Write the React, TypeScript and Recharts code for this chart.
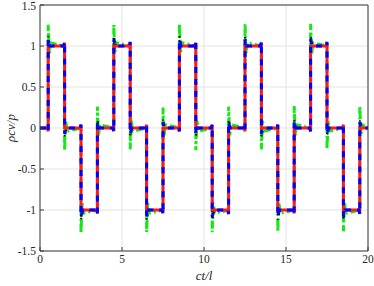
import { LineChart, Line, XAxis, YAxis, CartesianGrid } from 'recharts';

// [ct/l, rho*c*v/p] pairs
const greenPts = [
  [0, 0],
  [0.5, 0], [0.5, 1.26], [0.57, 0.91], [0.65, 1.04],
  [1.5, 1], [1.5, -0.27], [1.57, 0.09], [1.65, -0.04],
  [2.5, 0], [2.5, -1.28], [2.57, -0.91], [2.65, -1.04],
  [3.5, -1], [3.5, 0.26], [3.57, -0.09], [3.65, 0.04],
  [4.5, 0], [4.5, 1.26], [4.57, 0.91], [4.65, 1.04],
  [5.5, 1], [5.5, -0.26], [5.57, 0.09], [5.65, -0.04],
  [6.5, 0], [6.5, -1.27], [6.57, -0.91], [6.65, -1.04],
  [7.5, -1], [7.5, 0.25], [7.57, -0.09], [7.65, 0.04],
  [8.5, 0], [8.5, 1.27], [8.57, 0.91], [8.65, 1.04],
  [9.5, 1], [9.5, -0.27], [9.57, 0.09], [9.65, -0.04],
  [10.5, 0], [10.5, -1.27], [10.57, -0.91], [10.65, -1.04],
  [11.5, -1], [11.5, 0.26], [11.57, -0.09], [11.65, 0.04],
  [12.5, 0], [12.5, 1.27], [12.57, 0.91], [12.65, 1.04],
  [13.5, 1], [13.5, -0.26], [13.57, 0.09], [13.65, -0.04],
  [14.5, 0], [14.5, -1.27], [14.57, -0.91], [14.65, -1.04],
  [15.5, -1], [15.5, 0.27], [15.57, -0.09], [15.65, 0.04],
  [16.5, 0], [16.5, 1.27], [16.57, 0.91], [16.65, 1.04],
  [17.5, 1], [17.5, -0.26], [17.57, 0.09], [17.65, -0.04],
  [18.5, 0], [18.5, -1.26], [18.57, -0.91], [18.65, -1.04],
  [19.5, -1], [19.5, 0.27], [19.57, -0.09], [19.65, 0.04],
  [20, 0],
];

const redPts = [
  [0, 0],
  [0.45, 0], [0.5, -0.04], [0.5, 1], [1.45, 1], [1.5, 1.04], [1.5, 0],
  [2.45, 0], [2.5, 0.04], [2.5, -1], [3.45, -1], [3.5, -1.04], [3.5, 0],
  [4.45, 0], [4.5, -0.04], [4.5, 1], [5.45, 1], [5.5, 1.04], [5.5, 0],
  [6.45, 0], [6.5, 0.04], [6.5, -1], [7.45, -1], [7.5, -1.04], [7.5, 0],
  [8.45, 0], [8.5, -0.04], [8.5, 1], [9.45, 1], [9.5, 1.04], [9.5, 0],
  [10.45, 0], [10.5, 0.04], [10.5, -1], [11.45, -1], [11.5, -1.04], [11.5, 0],
  [12.45, 0], [12.5, -0.04], [12.5, 1], [13.45, 1], [13.5, 1.04], [13.5, 0],
  [14.45, 0], [14.5, 0.04], [14.5, -1], [15.45, -1], [15.5, -1.04], [15.5, 0],
  [16.45, 0], [16.5, -0.04], [16.5, 1], [17.45, 1], [17.5, 1.04], [17.5, 0],
  [18.45, 0], [18.5, 0.04], [18.5, -1], [19.45, -1], [19.5, -1.04], [19.5, 0],
  [20, 0],
];

const blackPts = [
  [0, 0],
  [0.5, 0], [0.5, 1.12], [0.62, 1], [1.5, 1], [1.5, -0.1], [1.62, 0],
  [2.5, 0], [2.5, -1.12], [2.62, -1], [3.5, -1], [3.5, 0.1], [3.62, 0],
  [4.5, 0], [4.5, 1.12], [4.62, 1], [5.5, 1], [5.5, -0.1], [5.62, 0],
  [6.5, 0], [6.5, -1.12], [6.62, -1], [7.5, -1], [7.5, 0.1], [7.62, 0],
  [8.5, 0], [8.5, 1.12], [8.62, 1], [9.5, 1], [9.5, -0.1], [9.62, 0],
  [10.5, 0], [10.5, -1.12], [10.62, -1], [11.5, -1], [11.5, 0.1], [11.62, 0],
  [12.5, 0], [12.5, 1.12], [12.62, 1], [13.5, 1], [13.5, -0.1], [13.62, 0],
  [14.5, 0], [14.5, -1.12], [14.62, -1], [15.5, -1], [15.5, 0.1], [15.62, 0],
  [16.5, 0], [16.5, 1.12], [16.62, 1], [17.5, 1], [17.5, -0.1], [17.62, 0],
  [18.5, 0], [18.5, -1.12], [18.62, -1], [19.5, -1], [19.5, 0.1], [19.62, 0],
  [20, 0],
];

const bluePts = [
  [0, 0],
  [0.45, 0], [0.5, -0.04], [0.5, 1.08], [0.6, 1],
  [1.45, 1], [1.5, 1.05], [1.5, -0.07], [1.6, 0],
  [2.45, 0], [2.5, 0.04], [2.5, -1.08], [2.6, -1],
  [3.45, -1], [3.5, -1.05], [3.5, 0.07], [3.6, 0],
  [4.45, 0], [4.5, -0.04], [4.5, 1.08], [4.6, 1],
  [5.45, 1], [5.5, 1.05], [5.5, -0.07], [5.6, 0],
  [6.45, 0], [6.5, 0.04], [6.5, -1.08], [6.6, -1],
  [7.45, -1], [7.5, -1.05], [7.5, 0.07], [7.6, 0],
  [8.45, 0], [8.5, -0.04], [8.5, 1.08], [8.6, 1],
  [9.45, 1], [9.5, 1.05], [9.5, -0.07], [9.6, 0],
  [10.45, 0], [10.5, 0.04], [10.5, -1.08], [10.6, -1],
  [11.45, -1], [11.5, -1.05], [11.5, 0.07], [11.6, 0],
  [12.45, 0], [12.5, -0.04], [12.5, 1.08], [12.6, 1],
  [13.45, 1], [13.5, 1.05], [13.5, -0.07], [13.6, 0],
  [14.45, 0], [14.5, 0.04], [14.5, -1.08], [14.6, -1],
  [15.45, -1], [15.5, -1.05], [15.5, 0.07], [15.6, 0],
  [16.45, 0], [16.5, -0.04], [16.5, 1.08], [16.6, 1],
  [17.45, 1], [17.5, 1.05], [17.5, -0.07], [17.6, 0],
  [18.45, 0], [18.5, 0.04], [18.5, -1.08], [18.6, -1],
  [19.45, -1], [19.5, -1.05], [19.5, 0.07], [19.6, 0],
  [20, 0],
];

const xTicks = [0, 5, 10, 15, 20];
const yTicks = [-1.5, -1, -0.5, 0, 0.5, 1, 1.5];

const toRows = (pts: number[][]) => pts.map(([x, y]) => ({ x, y }));

const axisColor = '#3a3a3a';
const serif = '"Liberation Serif", "DejaVu Serif", serif';
const tickStyle = { fontFamily: serif, fontSize: 11.5, fill: '#262626' };

function XLabel(props: any) {
  const vb = props.viewBox || {};
  const cx = vb.x + vb.width / 2;
  return (
    <text x={cx} y={280} textAnchor="middle" fontFamily={serif} fontStyle="italic" fontSize={13} fill="#262626">
      ct/l
    </text>
  );
}

function YLabel(props: any) {
  const vb = props.viewBox || {};
  const cy = vb.y + vb.height / 2;
  return (
    <text x={0} y={0} transform={`translate(15, ${cy}) rotate(-90)`} textAnchor="middle" fontFamily={serif} fontStyle="italic" fontSize={13} fill="#262626">
      ρcv/p
    </text>
  );
}

export default function App() {
  return (
    <div style={{ position: 'absolute', left: 0, top: 0, width: 374, height: 286, background: '#fff' }}>
      <LineChart width={374} height={286} margin={{ top: 4, right: 5, bottom: 0, left: 0 }}>
        <CartesianGrid xAxisId="b" yAxisId="l" stroke="#e3e3e3" />
        <XAxis
          xAxisId="b"
          dataKey="x"
          type="number"
          domain={[0, 20]}
          ticks={xTicks}
          allowDataOverflow
          height={35}
          tickSize={-4}
          tickMargin={8}
          stroke={axisColor}
          tick={tickStyle}
          label={<XLabel />}
        />
        <XAxis
          xAxisId="t"
          orientation="top"
          type="number"
          domain={[0, 20]}
          ticks={xTicks}
          allowDataOverflow
          height={1}
          tickSize={-4}
          tick={false}
          stroke={axisColor}
        />
        <YAxis
          yAxisId="l"
          type="number"
          domain={[-1.5, 1.5]}
          ticks={yTicks}
          allowDataOverflow
          width={40}
          tickSize={-4}
          tickMargin={8}
          stroke={axisColor}
          tick={tickStyle}
          label={<YLabel />}
        />
        <YAxis
          yAxisId="r"
          orientation="right"
          type="number"
          domain={[-1.5, 1.5]}
          ticks={yTicks}
          allowDataOverflow
          width={1}
          tickSize={-4}
          tick={false}
          stroke={axisColor}
        />
        <Line xAxisId="b" yAxisId="l" data={toRows(greenPts)} dataKey="y" type="linear" stroke="#19e619" strokeWidth={3} strokeDasharray="7 3 2 3" dot={false} activeDot={false} isAnimationActive={false} />
        <Line xAxisId="b" yAxisId="l" data={toRows(blackPts)} dataKey="y" type="linear" stroke="#000000" strokeWidth={2} strokeDasharray="1.5 4" dot={false} activeDot={false} isAnimationActive={false} />
        <Line xAxisId="b" yAxisId="l" data={toRows(redPts)} dataKey="y" type="linear" stroke="#ff1a1a" strokeWidth={3} dot={false} activeDot={false} isAnimationActive={false} />
        <Line xAxisId="b" yAxisId="l" data={toRows(bluePts)} dataKey="y" type="linear" stroke="#0000ff" strokeWidth={3} strokeDasharray="6 6" dot={false} activeDot={false} isAnimationActive={false} />
      </LineChart>
    </div>
  );
}
